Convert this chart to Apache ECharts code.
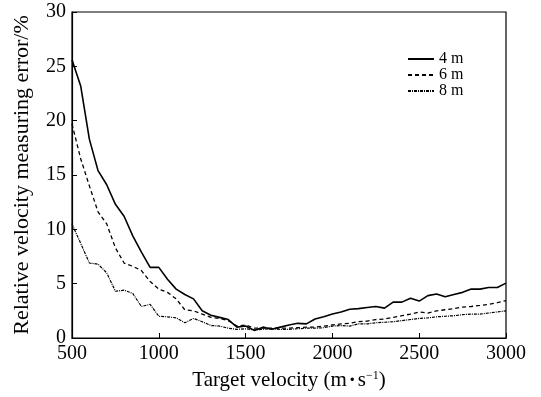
<!DOCTYPE html>
<html>
<head>
<meta charset="utf-8">
<script src="https://cdn.jsdelivr.net/npm/echarts@6/dist/echarts.min.js"></script>
<style>
  html, body { margin: 0; padding: 0; background: #fff; }
  #chart { width: 541px; height: 397px; }
</style>
</head>
<body>
<div id="chart"></div>
<script>
// target velocity (m/s), one sample every 50
var velocity = [];
for (var v = 500; v <= 3000; v += 50) velocity.push(v);

var err4m = [25.6, 23.2, 18.3, 15.4, 14.1, 12.3, 11.2, 9.4, 7.9, 6.5,
             6.5, 5.4, 4.5, 4.0, 3.6, 2.5, 2.1, 1.9, 1.7, 1.0,
             1.1, 0.7, 1.0, 0.8, 1.0, 1.2, 1.35, 1.3, 1.75, 1.95,
             2.2, 2.4, 2.65, 2.7, 2.8, 2.9, 2.75, 3.3, 3.3, 3.65,
             3.4, 3.9, 4.05, 3.8, 4.0, 4.2, 4.5, 4.5, 4.65, 4.65, 5.05];

var err6m = [19.7, 16.5, 14.0, 11.6, 10.5, 8.3, 6.9, 6.6, 6.2, 5.2,
             4.5, 4.2, 3.6, 2.6, 2.5, 2.2, 1.9, 1.8, 1.6, 1.1,
             1.2, 0.9, 0.9, 0.9, 0.9, 0.9, 0.95, 1.0, 1.0, 1.1,
             1.2, 1.3, 1.35, 1.5, 1.55, 1.7, 1.75, 1.9, 2.05, 2.2,
             2.4, 2.3, 2.5, 2.6, 2.7, 2.85, 2.9, 3.0, 3.1, 3.25, 3.45];

var err8m = [10.5, 8.7, 6.9, 6.8, 6.0, 4.3, 4.4, 4.1, 2.9, 3.1,
             2.0, 1.95, 1.85, 1.4, 1.8, 1.5, 1.15, 1.1, 0.9, 0.8,
             0.85, 0.75, 0.8, 0.85, 0.8, 0.8, 0.85, 0.9, 0.9, 0.95,
             1.1, 1.15, 1.1, 1.3, 1.3, 1.4, 1.45, 1.5, 1.6, 1.7,
             1.8, 1.85, 1.95, 2.0, 2.05, 2.15, 2.2, 2.2, 2.3, 2.4, 2.5];

var seriesNames = ['4 m', '6 m', '8 m'];

function pairs(ys) {
    return velocity.map(function (x, i) { return [x, ys[i]]; });
}

var fontFam = '"Liberation Serif", "DejaVu Serif", serif';

var chart = echarts.init(document.getElementById('chart'));

var option = {
    backgroundColor: '#fff',
    animation: false,
    textStyle: { fontFamily: fontFam, color: '#000' },
    grid: {
        left: 72, right: 35, top: 12, bottom: 59,
        show: true, borderColor: '#000', borderWidth: 1.2
    },
    legend: {
        data: seriesNames,
        orient: 'vertical',
        left: 402, top: 46,
        itemWidth: 26, itemHeight: 10, itemGap: 0,
        itemStyle: { opacity: 0 },
        textStyle: { fontFamily: fontFam, fontSize: 16, lineHeight: 15, color: '#000' }
    },
    xAxis: {
        type: 'value',
        min: 500, max: 3000, interval: 500,
        name: 'Target velocity (m{dot|·}s{sup|−1})',
        nameLocation: 'middle',
        nameGap: 32,
        nameTextStyle: {
            fontFamily: fontFam, fontSize: 21, color: '#000',
            rich: {
                dot: { fontFamily: fontFam, fontSize: 21, fontWeight: 'bold', padding: [0, 2, 0, 2] },
                sup: { fontFamily: fontFam, fontSize: 12, padding: [0, 0, 9, 0] }
            }
        },
        axisLine: { lineStyle: { color: '#000', width: 1.2 } },
        axisTick: { inside: true, length: 5, lineStyle: { color: '#000' } },
        axisLabel: {
            fontFamily: fontFam, fontSize: 20, color: '#000', margin: 6,
            formatter: function (val) { return String(val); }
        },
        splitLine: { show: false }
    },
    yAxis: {
        type: 'value',
        min: 0, max: 30, interval: 5,
        name: 'Relative velocity measuring error/%',
        nameLocation: 'middle',
        nameGap: 39,
        nameTextStyle: { fontFamily: fontFam, fontSize: 22, color: '#000' },
        axisLine: { lineStyle: { color: '#000', width: 1.2 } },
        axisTick: { inside: true, length: 5, lineStyle: { color: '#000' } },
        axisLabel: { fontFamily: fontFam, fontSize: 20, color: '#000', margin: 6 },
        splitLine: { show: false }
    },
    series: [
        {
            name: seriesNames[0], type: 'line', data: pairs(err4m),
            symbol: 'none', color: '#000',
            lineStyle: { color: '#000', width: 1.6, type: 'solid' }
        },
        {
            name: seriesNames[1], type: 'line', data: pairs(err6m),
            symbol: 'none', color: '#000',
            lineStyle: { color: '#000', width: 1.3, type: [4, 3] }
        },
        {
            name: seriesNames[2], type: 'line', data: pairs(err8m),
            symbol: 'none', color: '#000',
            lineStyle: { color: '#000', width: 1.2, type: [3, 1, 1, 1] }
        }
    ]
};

chart.setOption(option);
</script>
</body>
</html>
